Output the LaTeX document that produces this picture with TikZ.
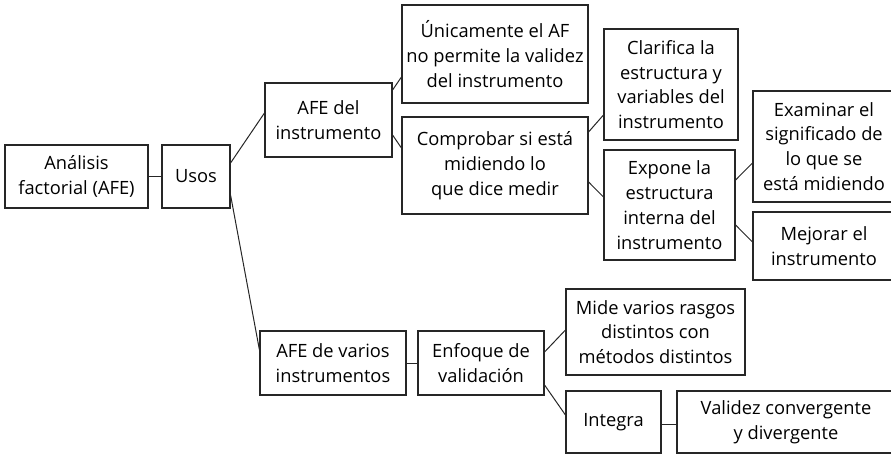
\documentclass[tikz,border=0pt]{standalone}
\usepackage{fontspec}
\setmainfont{Open Sans}
\begin{document}
\begin{tikzpicture}[x=1pt,y=-1pt,
  box/.style={draw=black!85, line width=1.1pt, inner sep=0pt, align=center,
    font=\fontsize{18.3}{24.8}\selectfont},
  link/.style={draw=black!85, line width=1pt}]
\useasboundingbox (0,0) rectangle (891,454);
\node[box, minimum width=143, minimum height=63] (ana) at (76.5,176.5) {Análisis\\factorial (AFE)};
\node[box, minimum width=68, minimum height=63] (usos) at (196,176.5) {Usos};
\node[box, minimum width=127, minimum height=74] (afe1) at (328.5,120) {AFE del\\instrumento};
\node[box, minimum width=186, minimum height=98] (unic) at (495,54) {Únicamente el AF\\no permite la validez\\del instrumento};
\node[box, minimum width=186, minimum height=97] (comp) at (495,165.5) {Comprobar si está\\midiendo lo\\que dice medir};
\node[box, minimum width=134, minimum height=111] (clar) at (671,84.5) {Clarifica la\\estructura y\\variables del\\instrumento};
\node[box, minimum width=131, minimum height=110] (expo) at (669.5,205) {Expone la\\estructura\\interna del\\instrumento};
\node[box, minimum width=142, minimum height=111] (exam) at (824,146.5) {Examinar el\\significado de\\lo que se\\está midiendo};
\node[box, minimum width=142, minimum height=68] (mejo) at (824,246) {Mejorar el\\instrumento};
\node[box, minimum width=146, minimum height=64] (afe2) at (333,363) {AFE de varios\\instrumentos};
\node[box, minimum width=126, minimum height=64] (enfo) at (481,363) {Enfoque de\\validación};
\node[box, minimum width=179, minimum height=86] (mide) at (655.5,332) {Mide varios rasgos\\distintos con\\métodos distintos};
\node[box, minimum width=95, minimum height=62] (inte) at (613.5,422) {Integra};
\node[box, minimum width=218, minimum height=62] (vali) at (786,422) {Validez convergente\\y divergente};

\draw[link] (ana.east) -- (usos.west);
\draw[link] ([yshift=13.5pt]usos.east) -- ([yshift=7pt]afe1.west);
\draw[link] ([yshift=-18.5pt]usos.east) -- ([yshift=13pt]afe2.west);
\draw[link] ([yshift=30pt]afe1.east) -- ([yshift=-23pt]unic.west);
\draw[link] ([yshift=-15pt]afe1.east) -- ([yshift=17.5pt]comp.west);
\draw[link] ([yshift=33.5pt]comp.east) -- ([yshift=-30.5pt]clar.west);
\draw[link] ([yshift=-16.5pt]comp.east) -- ([yshift=8pt]expo.west);
\draw[link] ([yshift=25pt]expo.east) -- ([yshift=-16.5pt]exam.west);
\draw[link] ([yshift=-20pt]expo.east) -- ([yshift=4pt]mejo.west);
\draw[link] (afe2.east) -- (enfo.west);
\draw[link] ([yshift=11pt]enfo.east) -- ([yshift=2pt]mide.west);
\draw[link] ([yshift=-22pt]enfo.east) -- ([yshift=7pt]inte.west);
\draw[link] ([yshift=-2pt]inte.east) -- ([yshift=-2pt]vali.west);
\end{tikzpicture}
\end{document}
